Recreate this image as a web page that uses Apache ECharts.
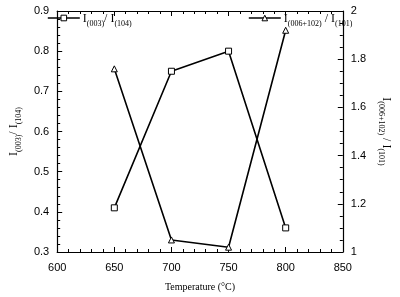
<!DOCTYPE html>
<html><head><meta charset="utf-8">
<script src="https://cdn.jsdelivr.net/npm/echarts@6/dist/echarts.min.js"></script>
<style>html,body{margin:0;padding:0;background:#fff}#c{width:400px;height:297px}</style>
</head><body><div id="c"></div>
<script>
var temps = [650, 700, 750, 800];
var ratio003_104 = [0.41, 0.75, 0.80, 0.36];
var ratio006_101 = [1.76, 1.05, 1.02, 1.92];
var xTicks = [600, 650, 700, 750, 800, 850];

var serif = 'Liberation Serif';
var sans = 'Liberation Sans';
var rich = {
  a: {fontFamily: serif, fontSize: 12, color: '#000', verticalAlign: 'bottom', lineHeight: 14},
  s: {fontFamily: serif, fontSize: 8, color: '#000', verticalAlign: 'bottom', lineHeight: 10, padding: [0,0,-3,0]}
};
function pairs(ys){ return temps.map(function(t,i){ return [t, ys[i]]; }); }
var chart = echarts.init(document.getElementById('c'));
var axLine = {show: true, lineStyle: {color: '#000', width: 1.2}};
var legItem = {color: '#fff', borderColor: '#000', borderWidth: 1};
var legLine = {color: '#000', width: 1.6};
chart.setOption({
  animation: false,
  grid: {left: 44, right: 45, top: 11, bottom: 40.5},
  legend: [
    {left: 47, top: 13, itemWidth: 32, itemHeight: 7, itemGap: 0, padding: 0,
     itemStyle: legItem, lineStyle: legLine,
     data: ['A'], formatter: function(){ return '{a|I}{s|(003)}{a|/ I}{s|(104)}'; },
     textStyle: {rich: rich, padding: [0,0,0,-2]}},
    {left: 248, top: 13, itemWidth: 32, itemHeight: 7, itemGap: 0, padding: 0,
     itemStyle: legItem, lineStyle: legLine,
     data: ['B'], formatter: function(){ return '{a|I}{s|(006+102)}{a| / I}{s|(101)}'; },
     textStyle: {rich: rich, padding: [0,0,0,-2]}}
  ],
  xAxis: [
    {type: 'value', min: xTicks[0], max: xTicks[xTicks.length-1], interval: 50, position: 'bottom',
     axisLine: axLine, axisTick: {inside: true, length: 5, lineStyle: {color: '#000'}},
     minorTick: {show: true, splitNumber: 5, length: 3, lineStyle: {color: '#000'}},
     splitLine: {show: false},
     axisLabel: {fontFamily: sans, fontSize: 11, color: '#000', margin: 10},
     name: 'Temperature (°C)', nameLocation: 'middle', nameGap: 30,
     nameTextStyle: {fontFamily: serif, fontSize: 10, color: '#000'}},
    {type: 'value', min: xTicks[0], max: xTicks[xTicks.length-1], interval: 50, position: 'top',
     axisLine: axLine, axisTick: {inside: true, length: 5, lineStyle: {color: '#000'}},
     minorTick: {show: true, splitNumber: 5, length: 3, lineStyle: {color: '#000'}},
     splitLine: {show: false}, axisLabel: {show: false}}
  ],
  yAxis: [
    {type: 'value', min: 0.3, max: 0.9, interval: 0.1, position: 'left',
     axisLine: axLine, axisTick: {inside: true, length: 5, lineStyle: {color: '#000'}},
     minorTick: {show: true, splitNumber: 5, length: 3, lineStyle: {color: '#000'}},
     splitLine: {show: false},
     axisLabel: {fontFamily: sans, fontSize: 11, color: '#000', margin: 8, formatter: function(v){ return v.toFixed(1); }},
     name: '{a|I}{s|(003)}{a|/ I}{s|(104)}', nameLocation: 'middle', nameGap: 31, nameRotate: 90,
     nameTextStyle: {rich: rich}},
    {type: 'value', min: 1, max: 2, interval: 0.2, position: 'right',
     axisLine: axLine, axisTick: {inside: true, length: 5, lineStyle: {color: '#000'}},
     minorTick: {show: true, splitNumber: 4, length: 3, lineStyle: {color: '#000'}},
     splitLine: {show: false},
     axisLabel: {fontFamily: sans, fontSize: 11, color: '#000', margin: 8, formatter: function(v){ return String(Math.round(v*10)/10); }},
     name: '{a|I}{s|(006+102)}{a| / I}{s|(101)}', nameLocation: 'middle', nameGap: 33, nameRotate: -90,
     nameTextStyle: {rich: rich}}
  ],
  series: [
    {name: 'A', type: 'line', xAxisIndex: 0, yAxisIndex: 0, data: pairs(ratio003_104),
     symbol: 'rect', symbolSize: 6, showAllSymbol: true,
     lineStyle: {color: '#000', width: 1.6}, itemStyle: {color: '#fff', borderColor: '#000', borderWidth: 1}},
    {name: 'B', type: 'line', xAxisIndex: 0, yAxisIndex: 1, data: pairs(ratio006_101),
     symbol: 'triangle', symbolSize: 6, showAllSymbol: true,
     lineStyle: {color: '#000', width: 1.6}, itemStyle: {color: '#fff', borderColor: '#000', borderWidth: 1}}
  ]
});
</script></body></html>
